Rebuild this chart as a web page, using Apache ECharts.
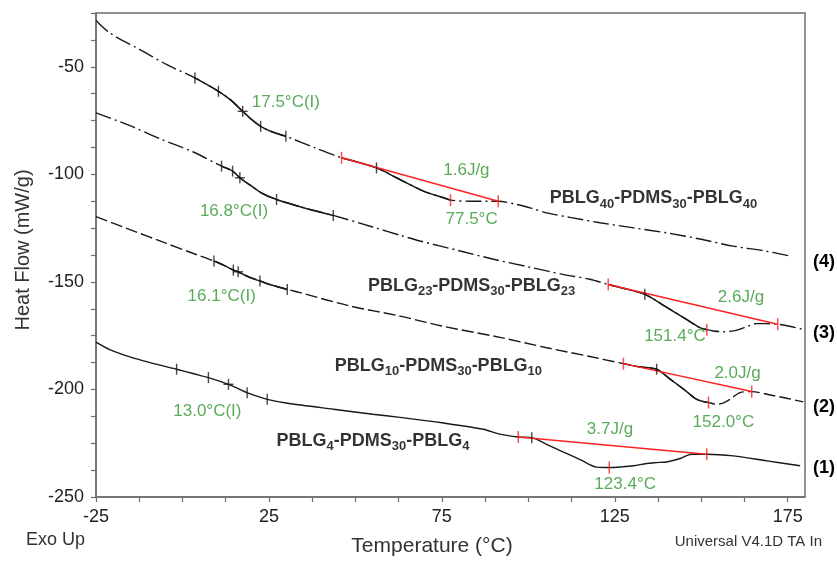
<!DOCTYPE html>
<html>
<head>
<meta charset="utf-8">
<script src="https://cdn.jsdelivr.net/npm/echarts@6/dist/echarts.min.js"></script>
<style>html,body{margin:0;padding:0;background:#fff}#c{width:837px;height:562px}</style>
</head>
<body>
<div id="c"></div>
<script>
const FONT = '"Liberation Sans", Arial, Helvetica, sans-serif';

// ---- axes ----
const xMin = -25, xMax = 180, yMin = -250, yMax = -25;
const xLabelTicks = [-25, 25, 75, 125, 175];
const yLabelTicks = [-250, -200, -150, -100, -50];

// ---- curve (4) PBLG40-PDMS30-PBLG40 ----
const temp4 = [-25,-21,-12.3,-4.5,3.6,10.4,14,17.4,20,22.6,26,29.9,38,46,56.1,61.9,69.7,75.5,77.5,83,88.9,91.3,96.6,100.5,105.3,112,120.7,130,140,150,159.2,168,175.7];
const flow4 = [-28.5,-34.3,-42,-49,-55.2,-61.4,-65.5,-70.7,-74.5,-77.7,-80.3,-82.3,-87.5,-92.3,-97,-101.6,-107.8,-110.9,-112,-112.5,-112.5,-112.5,-114,-115.6,-117.9,-120,-122.5,-124.8,-127.2,-130.2,-133.4,-135.5,-138];
// ---- curve (3) PBLG23-PDMS30-PBLG23 ----
const temp3 = [-25,-15,-6.5,3,11.3,14.5,16.6,20,23,27.2,35,43.6,55,62.9,68.7,80,90,100,110,117.8,123.1,128,133.7,140,145,149.6,151.6,153.5,156.5,159.3,161.5,163.2,166,169,172.1,175.5,179.5];
const flow3 = [-71.4,-77.5,-83.5,-89.5,-96.2,-98.5,-101.6,-105.5,-108.8,-111.7,-115.5,-119.1,-124.5,-128.3,-131,-135.5,-139.5,-143,-146.5,-148.8,-151.2,-153.2,-155.8,-161.8,-166.7,-171.3,-172.2,-172.8,-173.2,-172.8,-171.8,-170.8,-169.4,-169.4,-169.7,-170.6,-172.1];
// ---- curve (2) PBLG10-PDMS30-PBLG10 ----
const temp2 = [-25,-15,-5,3,9.1,12,14.7,16.1,19,22.4,26,30.3,34,48.4,62.9,75,91.8,105,117.8,127.5,132,137.1,141,145,148.7,152.1,154.5,156.5,158.3,161.2,164.6,170,175,179.5];
const flow2 = [-119.7,-125.8,-131.9,-136.7,-140.3,-142.3,-144.5,-145.3,-147.6,-149.6,-151.6,-153.5,-155,-161.2,-165.9,-170.5,-175.8,-180.5,-184.7,-188,-189.5,-190.6,-195.2,-200,-204.6,-206.1,-206.9,-206.2,-204.6,-201.5,-201,-202.6,-204.2,-205.8];
// ---- curve (1) PBLG4-PDMS30-PBLG4 ----
const temp1 = [-25,-21,-15,-9.4,-1.7,3,7.5,10.5,13.3,16,18.7,21.5,24.5,30,43.6,55,62.9,75,87,91.8,97.1,101,105,110,115,119.8,123.4,127,130.4,134.2,137,140,143.9,147.2,151.6,159.3,169,178.6];
const flow1 = [-178,-181.5,-185,-187.5,-190.6,-192.6,-194.5,-196,-197.6,-199.5,-201.5,-203.1,-204.6,-206.3,-209.2,-211.5,-213,-215.5,-218.5,-220.8,-222.1,-222.4,-225.3,-229,-232.6,-236.1,-236.3,-236,-235.5,-234.4,-234,-233.7,-232.1,-230.1,-230.1,-230.9,-233.2,-235.5];

// ---- analysis tick points (Tg onset / mid / end, enthalpy start) ----
const tick4T = [3.6,10.4,17.4,22.6,29.9,56.1], tick4V = [-55.2,-61.4,-70.7,-77.7,-82.3,-97];
const tick3T = [11.3,14.5,16.6,27.2,43.6,133.7], tick3V = [-96.2,-98.5,-101.6,-111.7,-119.1,-155.8];
const tick2T = [9.1,14.7,16.1,22.4,30.3,137.1], tick2V = [-140.3,-144.5,-145.3,-149.6,-153.5,-190.6];
const tick1T = [-1.7,7.5,13.3,18.7,24.5,101], tick1V = [-190.6,-194.5,-197.6,-201.5,-204.6,-222.4];
const midIndex = 2;

// ---- solid (analysed) ranges of the broken-line curves ----
const solid4 = [[3.6,29.9],[46,77.5]];
const solid3 = [[11.3,43.6],[123.1,151.6]];
const solid2 = [[9.1,30.3],[127.5,152.1]];

// ---- melting baselines (red) and peaks ----
const base4 = [[46,-92.3],[91.3,-112.5]],   peak4 = [77.5,-112];
const base3 = [[123.1,-151.2],[172.1,-169.7]], peak3 = [151.6,-172.2];
const base2 = [[127.5,-188],[164.6,-201]],  peak2 = [152.1,-206.1];
const base1 = [[97.1,-222.1],[151.6,-230.1]], peak1 = [123.4,-236.3];

// ---- green annotations ----
const noteText = ['17.5°C(I)','16.8°C(I)','16.1°C(I)','13.0°C(I)','1.6J/g','77.5°C','2.6J/g','151.4°C','2.0J/g','152.0°C','3.7J/g','123.4°C'];
const noteT    = [29.9, 14.9, 11.35, 7.2, 82.1, 83.6, 161.5, 142.4, 160.5, 156.4, 123.6, 128];
const noteV    = [-66.5, -117.1, -156.6, -210.3, -98.1, -121, -157.2, -175.2, -192.3, -215.4, -218.6, -244];

// ---- sample labels ----
const blockPBLG = [40, 23, 10, 4];
const blockPDMS = 30;
const sampleT = [136.2, 83.6, 74, 55.1];
const sampleV = [-111.2, -152, -189, -223.8];
const curveNumbers = ['(4)', '(3)', '(2)', '(1)'];

// ---------------------------------------------------------------
const pairs = (t, v) => t.map((x, i) => [x, v[i]]);
const within = (t, v, a, b) => pairs(t, v).filter(p => p[0] >= a - 1e-9 && p[0] <= b + 1e-9);
const INK = '#181818';
const RED = '#ff2222';
const GREEN = '#2f962f';
const DASHDOT = [16, 4, 2, 4];
const DASH = [12, 4];

const series = [];
function addCurve(t, v, dash, solidRanges) {
  series.push({
    type: 'line', data: pairs(t, v), smooth: 0.3, showSymbol: false, silent: true,
    lineStyle: { color: INK, width: 1.4, type: dash }, z: 2
  });
  (solidRanges || []).forEach(r => {
    series.push({
      type: 'line', data: within(t, v, r[0], r[1]), smooth: 0.3, showSymbol: false, silent: true,
      lineStyle: { color: INK, width: 1.5, type: 'solid' }, z: 3
    });
  });
}
addCurve(temp4, flow4, DASHDOT, solid4);
addCurve(temp3, flow3, DASHDOT, solid3);
addCurve(temp2, flow2, DASH, solid2);
addCurve(temp1, flow1, 'solid', []);

// black analysis ticks
const allTicks = [[tick4T, tick4V], [tick3T, tick3V], [tick2T, tick2V], [tick1T, tick1V]];
series.push({
  type: 'scatter', silent: true, symbol: 'rect', symbolSize: [1.4, 11], z: 5,
  itemStyle: { color: INK },
  data: allTicks.flatMap(([t, v]) => pairs(t, v))
});
series.push({
  type: 'scatter', silent: true, symbol: 'rect', symbolSize: [10, 1.4], z: 5,
  itemStyle: { color: INK },
  data: allTicks.map(([t, v]) => [t[midIndex], v[midIndex]])
});

// red baselines
[base4, base3, base2, base1].forEach(b => {
  series.push({
    type: 'line', data: b, showSymbol: false, silent: true, z: 4,
    lineStyle: { color: RED, width: 1.5 }
  });
});
series.push({
  type: 'scatter', silent: true, symbol: 'rect', symbolSize: [1.5, 12], z: 6,
  itemStyle: { color: RED },
  data: [base4, base3, base2, base1].flat().concat([peak4, peak3, peak2, peak1])
});

// green annotations
series.push({
  type: 'scatter', silent: true, symbolSize: 0, z: 7,
  data: noteText.map((s, i) => ({ name: s, value: [noteT[i], noteV[i]] })),
  label: {
    show: true, position: 'inside', formatter: p => p.name,
    color: GREEN, fontSize: 17, fontFamily: FONT
  }
});

// sample labels with subscripts
series.push({
  type: 'scatter', silent: true, symbolSize: 0, z: 7,
  data: blockPBLG.map((n, i) => ({
    name: '{b|PBLG}{s|' + n + '}{b|-PDMS}{s|' + blockPDMS + '}{b|-PBLG}{s|' + n + '}',
    value: [sampleT[i], sampleV[i]]
  })),
  label: {
    show: true, position: 'inside', formatter: p => p.name,
    rich: {
      b: { fontSize: 18, fontWeight: 'bold', fontFamily: FONT, color: '#000', lineHeight: 24 },
      s: { fontSize: 13, fontWeight: 'bold', fontFamily: FONT, color: '#000', lineHeight: 13, padding: [11, 0, 0, 0] }
    }
  }
});

const chart = echarts.init(document.getElementById('c'), null, { renderer: 'canvas' });
const axisColor = '#6e6e6e';
chart.setOption({
  animation: false,
  backgroundColor: '#ffffff',
  grid: { left: 96, right: 32, top: 13, bottom: 65, show: true, borderColor: axisColor, borderWidth: 1.5, backgroundColor: 'transparent' },
  xAxis: {
    type: 'value', min: xMin, max: xMax, interval: 12.5,
    axisLine: { show: true, onZero: false, lineStyle: { color: axisColor, width: 1.5 } },
    axisTick: { show: true, length: 5, lineStyle: { color: axisColor, width: 1.2 } },
    splitLine: { show: false },
    axisLabel: {
      margin: 11, color: '#222', fontSize: 18, fontFamily: FONT,
      showMaxLabel: false,
      formatter: v => xLabelTicks.some(t => Math.abs(t - v) < 1e-6) ? String(Math.round(v)) : ''
    }
  },
  yAxis: {
    type: 'value', min: yMin, max: yMax, interval: 12.5,
    axisLine: { show: true, onZero: false, lineStyle: { color: axisColor, width: 1.5 } },
    axisTick: { show: true, length: 5, lineStyle: { color: axisColor, width: 1.2 } },
    splitLine: { show: false },
    axisLabel: {
      margin: 12, color: '#222', fontSize: 18, fontFamily: FONT,
      formatter: v => yLabelTicks.some(t => Math.abs(t - v) < 1e-6) ? String(Math.round(v)) : ''
    }
  },
  graphic: [
    { type: 'text', x: 23, y: 250, rotation: Math.PI / 2, silent: true,
      style: { text: 'Heat Flow (mW/g)', fill: '#333', font: '20px ' + FONT, align: 'center', verticalAlign: 'middle' } },
    { type: 'text', x: 432, y: 546, silent: true,
      style: { text: 'Temperature (°C)', fill: '#333', font: '21px ' + FONT, align: 'center', verticalAlign: 'middle' } },
    { type: 'text', x: 26, y: 540, silent: true,
      style: { text: 'Exo Up', fill: '#333', font: '18px ' + FONT, align: 'left', verticalAlign: 'middle' } },
    { type: 'text', x: 822, y: 542, silent: true,
      style: { text: 'Universal V4.1D TA In', fill: '#333', font: '15px ' + FONT, align: 'right', verticalAlign: 'middle' } },
    ...curveNumbers.map((s, i) => ({
      type: 'text', x: 813, y: [262, 333, 407, 468][i], silent: true,
      style: { text: s, fill: '#000', font: 'bold 18px ' + FONT, align: 'left', verticalAlign: 'middle' }
    }))
  ],
  series: series
});
</script>
</body>
</html>
